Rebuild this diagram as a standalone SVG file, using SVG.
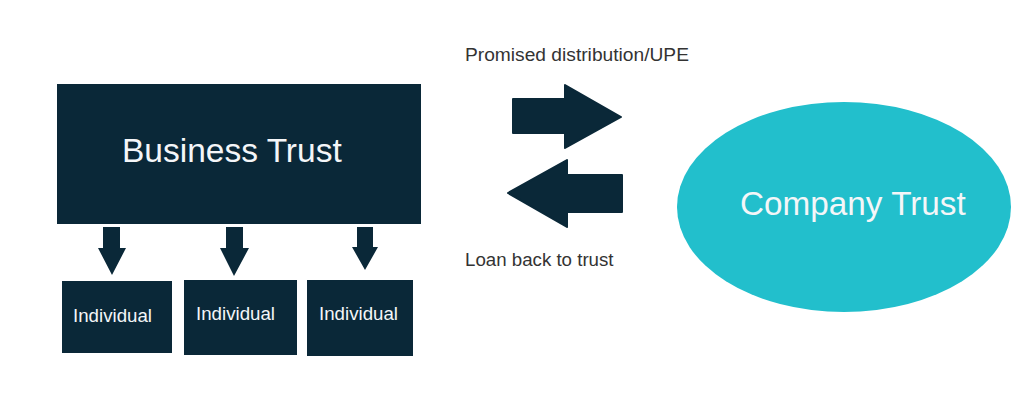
<svg xmlns="http://www.w3.org/2000/svg" width="1024" height="412" viewBox="0 0 1024 412">
<style>
.box{fill:#0a2838}
.arr{fill:#0a2838}
.wt{fill:#f4f6f8;font-family:"Liberation Sans",Arial,sans-serif}
.lbl{fill:#333333;font-family:"Liberation Sans",Arial,sans-serif}
</style>
<rect width="1024" height="412" fill="#ffffff"/>
<g id="business-trust">
<rect class="box" x="57" y="84" width="364" height="140"/>
<text class="wt" x="122" y="162" font-size="33.5">Business Trust</text>
</g>
<g id="individual-1">
<rect class="box" x="62" y="281" width="110" height="72"/>
<text class="wt" x="73" y="322" font-size="18.7">Individual</text>
</g>
<g id="individual-2">
<rect class="box" x="184" y="280" width="113" height="75"/>
<text class="wt" x="196" y="320" font-size="18.7">Individual</text>
</g>
<g id="individual-3">
<rect class="box" x="307" y="280" width="106" height="76"/>
<text class="wt" x="319" y="320" font-size="18.7">Individual</text>
</g>
<g id="company-trust">
<ellipse cx="844" cy="207" rx="167" ry="105" fill="#22bfcc"/>
<text class="wt" x="740" y="215" font-size="33.3">Company Trust</text>
</g>
<g id="connectors">
<polygon class="arr" points="103,227 120,227 120,248 126,248 112,275 98,248 103,248"/>
<polygon class="arr" points="226,227 243,227 243,248 249,248 234,276 220,248 226,248"/>
<polygon class="arr" points="357,227 373,227 373,247 378,247 365,270 352,247 357,247"/>
<polygon class="arr" points="513,99 565,99 565,85 621,117 565,148 565,133 513,133" stroke="#0a2838" stroke-width="2" stroke-linejoin="round"/>
<polygon class="arr" points="622,175 567,175 567,160 508,193 567,227 567,212 622,212" stroke="#0a2838" stroke-width="2" stroke-linejoin="round"/>
<text class="lbl" x="465" y="61" font-size="19.2">Promised distribution/UPE</text>
<text class="lbl" x="465" y="266" font-size="18.7">Loan back to trust</text>
</g>
</svg>
